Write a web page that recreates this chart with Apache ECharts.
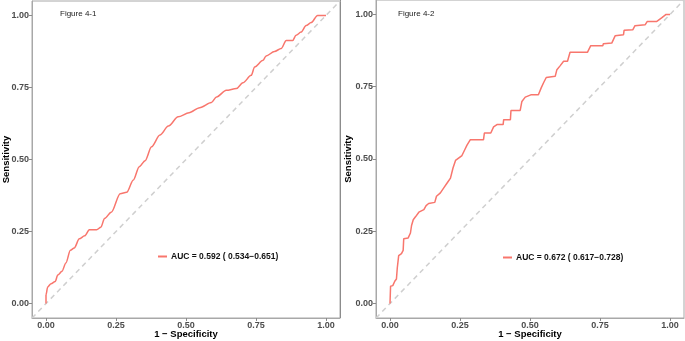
<!DOCTYPE html>
<html>
<head>
<meta charset="utf-8">
<script src="https://cdn.jsdelivr.net/npm/echarts@6/dist/echarts.min.js"></script>
<style>
html,body{margin:0;padding:0;background:#fff;}
#c{width:685px;height:341px;}
</style>
</head>
<body>
<div id="c"></div>
<script>
// Tick values
var ticks = [0, 0.25, 0.5, 0.75, 1];

// Figure 4-1 ROC curve (smoothed)
var fpr1 = [0, 0, 0.006, 0.018, 0.033, 0.042, 0.057, 0.071, 0.087, 0.101, 0.119, 0.138, 0.155, 0.181, 0.196, 0.209, 0.233, 0.265, 0.288, 0.312, 0.333, 0.354, 0.377, 0.407, 0.437, 0.472, 0.511, 0.549, 0.591, 0.609, 0.644, 0.680, 0.703, 0.733, 0.745, 0.775, 0.786, 0.816, 0.840, 0.858, 0.881, 0.893, 0.911, 0.929, 0.947, 0.970, 1.0];
var tpr1 = [0, 0.031, 0.058, 0.069, 0.077, 0.099, 0.112, 0.141, 0.185, 0.193, 0.225, 0.235, 0.256, 0.256, 0.265, 0.295, 0.317, 0.381, 0.386, 0.429, 0.475, 0.496, 0.544, 0.585, 0.616, 0.648, 0.662, 0.680, 0.698, 0.717, 0.740, 0.746, 0.766, 0.792, 0.821, 0.844, 0.859, 0.875, 0.885, 0.913, 0.913, 0.931, 0.942, 0.965, 0.975, 1.0, 1.0];

// Figure 4-2 ROC curve (empirical)
var fpr2 = [0, 0, 0.002, 0.01, 0.017, 0.023, 0.026, 0.031, 0.031, 0.041, 0.047, 0.049, 0.065, 0.073, 0.077, 0.083, 0.091, 0.103, 0.121, 0.129, 0.138, 0.16, 0.166, 0.18, 0.192, 0.204, 0.216, 0.225, 0.234, 0.257, 0.267, 0.275, 0.287, 0.334, 0.337, 0.36, 0.37, 0.382, 0.404, 0.406, 0.43, 0.432, 0.465, 0.471, 0.483, 0.503, 0.53, 0.54, 0.548, 0.558, 0.59, 0.596, 0.608, 0.62, 0.634, 0.643, 0.705, 0.717, 0.76, 0.762, 0.792, 0.804, 0.834, 0.836, 0.867, 0.875, 0.911, 0.919, 0.953, 0.97, 0.986, 1];
var tpr2 = [0, 0.005, 0.06, 0.062, 0.077, 0.085, 0.123, 0.129, 0.166, 0.173, 0.184, 0.224, 0.227, 0.244, 0.27, 0.29, 0.30, 0.316, 0.325, 0.339, 0.346, 0.35, 0.371, 0.383, 0.40, 0.417, 0.434, 0.469, 0.495, 0.512, 0.532, 0.548, 0.567, 0.567, 0.59, 0.59, 0.611, 0.619, 0.619, 0.636, 0.636, 0.668, 0.668, 0.699, 0.714, 0.722, 0.722, 0.746, 0.763, 0.782, 0.786, 0.809, 0.823, 0.838, 0.838, 0.869, 0.869, 0.892, 0.892, 0.899, 0.901, 0.926, 0.93, 0.945, 0.947, 0.961, 0.964, 0.976, 0.976, 0.988, 1, 1];

var name1 = 'AUC = 0.592 ( 0.534\u22120.651)';
var name2 = 'AUC = 0.672 ( 0.617\u22120.728)';
var diag = [-0.05, 1.05];

function pairs(xs, ys) { return xs.map(function (x, i) { return [x, ys[i]]; }); }

var FONT = '"Liberation Sans", Arial, sans-serif';
var frameColor = '#A8A8A8';

function xAx(gi) {
  return {
    type: 'value', gridIndex: gi, min: -0.05, max: 1.05,
    axisLine: { show: true, onZero: false, lineStyle: { color: frameColor, width: 1 } },
    axisTick: { show: true, customValues: ticks, length: 3, lineStyle: { color: '#8a8a8a' } },
    axisLabel: { customValues: ticks, margin: 3, fontSize: 9, fontWeight: 'bold', color: '#4D4D4D', fontFamily: FONT,
      formatter: function (v) { return v.toFixed(2); } },
    splitLine: { show: false },
    name: '1 \u2212 Specificity', nameLocation: 'middle', nameGap: 11, nameMoveOverlap: false,
    nameTextStyle: { fontSize: 9.5, fontWeight: 'bold', color: '#000', fontFamily: FONT }
  };
}
function yAx(gi, gap) {
  return {
    type: 'value', gridIndex: gi, min: -0.05, max: 1.05,
    axisLine: { show: true, onZero: false, lineStyle: { color: frameColor, width: 1 } },
    axisTick: { show: true, customValues: ticks, length: 3, lineStyle: { color: '#8a8a8a' } },
    axisLabel: { customValues: ticks, margin: 3, fontSize: 9, fontWeight: 'bold', color: '#4D4D4D', fontFamily: FONT,
      formatter: function (v) { return v.toFixed(2); } },
    splitLine: { show: false },
    name: 'Sensitivity', nameLocation: 'middle', nameGap: gap, nameMoveOverlap: false,
    nameTextStyle: { fontSize: 9.5, fontWeight: 'bold', color: '#000', fontFamily: FONT }
  };
}
function diagSeries(gi) {
  return {
    type: 'line', xAxisIndex: gi, yAxisIndex: gi, data: pairs(diag, diag),
    symbol: 'none', silent: true,
    lineStyle: { color: '#CFCFCF', width: 1.5, type: [5, 4] }, z: 1
  };
}
function legendCfg(nm, left, top) {
  return {
    data: [nm], left: left, top: top, padding: 0, itemWidth: 9, itemHeight: 2, itemGap: 4,
    icon: 'rect', selectedMode: false,
    textStyle: { fontSize: 8.5, fontWeight: 'bold', color: '#111', fontFamily: FONT, padding: [0, 0, 0, -1] }
  };
}

var chart = echarts.init(document.getElementById('c'), null, { renderer: 'canvas' });
chart.setOption({
  animation: false,
  backgroundColor: '#fff',
  textStyle: { fontFamily: FONT },
  grid: [
    { left: 32, top: 1, width: 308, height: 317, show: true, borderColor: frameColor, borderWidth: 1, backgroundColor: 'transparent', containLabel: false, outerBoundsMode: 'none' },
    { left: 376, top: 0, width: 308, height: 318, show: true, borderColor: frameColor, borderWidth: 1, backgroundColor: 'transparent', containLabel: false, outerBoundsMode: 'none' }
  ],
  xAxis: [xAx(0), xAx(1)],
  yAxis: [yAx(0, 21), yAx(1, 23)],
  legend: [legendCfg(name1, 158, 252), legendCfg(name2, 503, 253)],
  series: [
    diagSeries(0),
    diagSeries(1),
    {
      name: name1, type: 'line', xAxisIndex: 0, yAxisIndex: 0, data: pairs(fpr1, tpr1),
      symbol: 'none', smooth: 0.3, smoothMonotone: 'x',
      lineStyle: { color: '#F8766D', width: 1.5 }, itemStyle: { color: '#F8766D' }, z: 3
    },
    {
      name: name2, type: 'line', xAxisIndex: 1, yAxisIndex: 1, data: pairs(fpr2, tpr2),
      symbol: 'none',
      lineStyle: { color: '#F8766D', width: 1.5 }, itemStyle: { color: '#F8766D' }, z: 3
    }
  ],
  graphic: [
    { type: 'text', left: 60, top: 10, silent: true,
      style: { text: 'Figure 4-1', fontSize: 8, fill: '#222', fontFamily: FONT } },
    { type: 'text', left: 398, top: 10, silent: true,
      style: { text: 'Figure 4-2', fontSize: 8, fill: '#222', fontFamily: FONT } },
    { type: 'line', silent: true, shape: { x1: 340.5, y1: 0, x2: 340.5, y2: 318 },
      style: { stroke: '#8C8C8C', lineWidth: 1 } }
  ]
});
</script>
</body>
</html>
